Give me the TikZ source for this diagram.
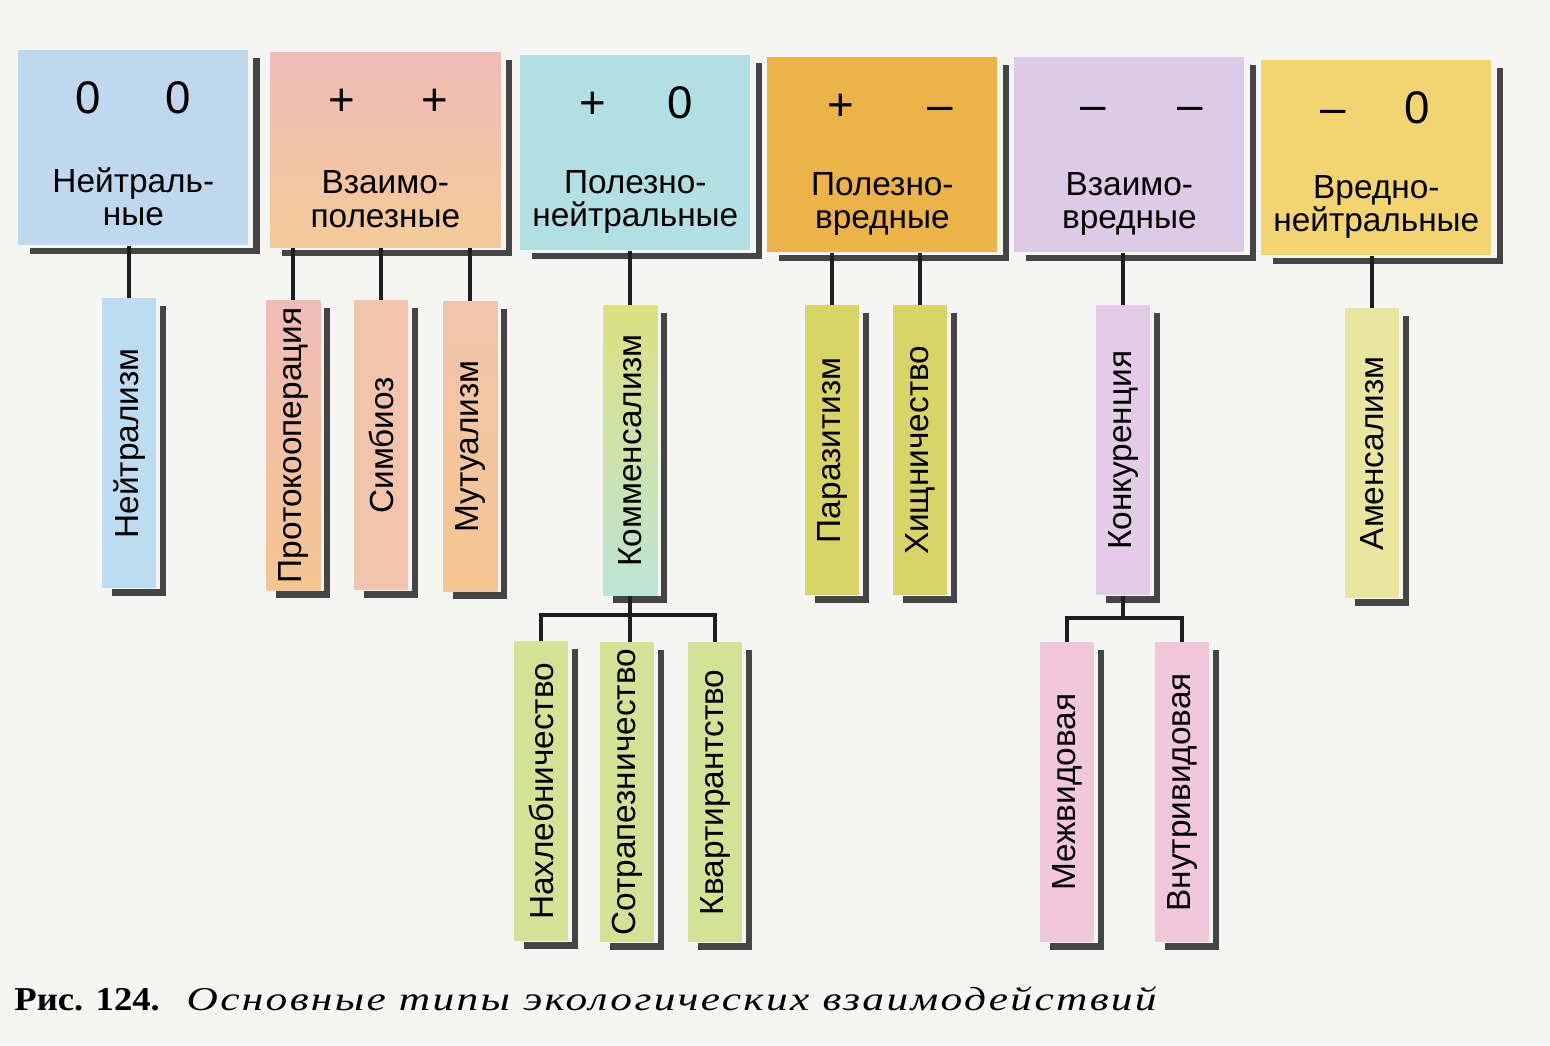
\documentclass[tikz,border=0pt]{standalone}
\usepackage{fontspec}
\usepackage{graphicx}
\setmainfont{Liberation Sans}
\newfontfamily\capfont[FakeStretch=1.3,LetterSpace=7]{Liberation Serif}
\newfontfamily\capbold[FakeStretch=1.1]{Liberation Serif}
\usetikzlibrary{calc}

\definecolor{paper}{HTML}{F5F5F3}
\definecolor{shadowgray}{HTML}{454545}
\definecolor{linkgray}{HTML}{1E1E1E}
\definecolor{neublue}{HTML}{BFD8EE}
\definecolor{vzppink}{HTML}{F0BCB8}
\definecolor{vzporange}{HTML}{F4CA98}
\definecolor{pnecyan}{HTML}{B2E0E2}
\definecolor{pvrgold}{HTML}{ECB446}
\definecolor{vzvlilac}{HTML}{DCCAE6}
\definecolor{vneyellow}{HTML}{F2D470}
\definecolor{kindblue}{HTML}{BCDCF2}
\definecolor{kindorange}{HTML}{F4C690}
\definecolor{kindpeach}{HTML}{F2C4AC}
\definecolor{kindcyan}{HTML}{BEE4D6}
\definecolor{kindlime}{HTML}{DCE080}
\definecolor{kindolive}{HTML}{D8D466}
\definecolor{kindlilac}{HTML}{E4CCE8}
\definecolor{kindlemon}{HTML}{EAE6A0}
\definecolor{kindgreen}{HTML}{D4E296}
\definecolor{kindrose}{HTML}{F0C8DA}

\newcommand\kindfont{\fontsize{19}{21}\selectfont}
\newcommand\sgnfont{\fontsize{26}{28}\selectfont}
\newcommand\ttlfont{\fontsize{19}{19}\selectfont}

\begin{document}
\begin{tikzpicture}[x=0.02cm,y=-0.02cm,
  grp/.style={minimum width=4.6cm,minimum height=3.9cm,anchor=north west,inner sep=0pt},
  kind/.style={minimum width=1.08cm,minimum height=5.8cm,anchor=north west,inner sep=0pt,font=\kindfont},
  sgn/.style={font=\sgnfont,anchor=base,inner sep=0pt},
  ttl/.style={font=\ttlfont,align=center,inner sep=0pt},
  shd/.style={line width=3.6pt,draw=shadowgray},
  link/.style={line width=2.2pt,draw=linkgray}]
\fill[paper](0,0)rectangle(1550,1045);
\useasboundingbox(0,0)rectangle(1550,1045);

% groups
\node[grp,fill=neublue](neu)at(18,50){};
\node[grp,top color=vzppink,bottom color=vzporange](vzp)at(270,52){};
\node[grp,fill=pnecyan](pne)at(520,55){};
\node[grp,fill=pvrgold](pvr)at(767,57){};
\node[grp,fill=vzvlilac](vzv)at(1014,57){};
\node[grp,fill=vneyellow](vne)at(1261,60){};

\node[sgn](neu-l)at($(neu.north)+(-45,63)$){0};
\node[sgn](neu-r)at($(neu.north)+(45,63)$){0};
\node[sgn](vzp-l)at($(vzp.north)+(-43,63)$){+};
\node[sgn](vzp-r)at($(vzp.north)+(50,63)$){+};
\node[sgn](pne-l)at($(pne.north)+(-43,63)$){+};
\node[sgn](pne-r)at($(pne.north)+(45,63)$){0};
\node[sgn](pvr-l)at($(pvr.north)+(-42,63)$){+};
\node[sgn](pvr-r)at($(pvr.north)+(58,63)$){–};
\node[sgn](vzv-l)at($(vzv.north)+(-36,63)$){–};
\node[sgn](vzv-r)at($(vzv.north)+(61,63)$){–};
\node[sgn](vne-l)at($(vne.north)+(-43,63)$){–};
\node[sgn](vne-r)at($(vne.north)+(41,63)$){0};

\node[ttl](neu-t)at($(neu.north)+(0,147)$){Нейтраль-\\ные};
\node[ttl](vzp-t)at($(vzp.north)+(0,147)$){Взаимо-\\полезные};
\node[ttl](pne-t)at($(pne.north)+(0,147)$){Полезно-\\нейтральные};
\node[ttl](pvr-t)at($(pvr.north)+(0,147)$){Полезно-\\вредные};
\node[ttl](vzv-t)at($(vzv.north)+(0,147)$){Взаимо-\\вредные};
\node[ttl](vne-t)at($(vne.north)+(0,147)$){Вредно-\\нейтральные};

% kinds
\node[kind,fill=kindblue](nei)at(102,298){\rotatebox{90}{Нейтрализм}};
\node[kind,top color=vzppink,bottom color=kindorange](pro)at(266,300){\rotatebox{90}{Протокооперация}};
\node[kind,fill=kindpeach](sim)at(354,300){\rotatebox{90}{Симбиоз}};
\node[kind,top color=kindpeach,bottom color=kindorange](mut)at(443,301){\rotatebox{90}{Мутуализм}};
\node[kind,top color=kindlime,bottom color=kindcyan](kom)at(603,305){\rotatebox{90}{Комменсализм}};
\node[kind,fill=kindolive](par)at(805,305){\rotatebox{90}{Паразитизм}};
\node[kind,fill=kindolive](hish)at(893,305){\rotatebox{90}{Хищничество}};
\node[kind,fill=kindlilac](kon)at(1096,305){\rotatebox{90}{Конкуренция}};
\node[kind,fill=kindlemon](ame)at(1345,308){\rotatebox{90}{Аменсализм}};

\node[kind,minimum height=6cm,fill=kindgreen](nax)at(514,641){\rotatebox{90}{Нахлебничество}};
\node[kind,minimum height=6cm,fill=kindgreen](sot)at(600,642){\rotatebox{90}{Сотрапезничество}};
\node[kind,minimum height=6cm,fill=kindgreen](kva)at(688,642){\rotatebox{90}{Квартирантство}};
\node[kind,minimum height=6cm,fill=kindrose](mez)at(1040,642){\rotatebox{90}{Межвидовая}};
\node[kind,minimum height=6cm,fill=kindrose](vnu)at(1155,642){\rotatebox{90}{Внутривидовая}};

% shadows
\foreach \n in {neu,vzp,pne,pvr,vzv,vne}
  \draw[shd]($(\n.north east)+(8,8)$)|-($(\n.south west)+(12,5)$);
\foreach \n in {nei,pro,sim,mut,kom,par,hish,kon,ame,nax,sot,kva,mez,vnu}
  \draw[shd]($(\n.north east)+(6,8)$)|-($(\n.south west)+(10,4)$);

% links
\draw[link](nei.north)--(nei.north|-neu.south);
\draw[link](pro.north)--(pro.north|-vzp.south);
\draw[link](sim.north)--(sim.north|-vzp.south);
\draw[link](mut.north)--(mut.north|-vzp.south);
\draw[link](kom.north)--(kom.north|-pne.south);
\draw[link](par.north)--(par.north|-pvr.south);
\draw[link](hish.north)--(hish.north|-pvr.south);
\draw[link](kon.north)--(kon.north|-vzv.south);
\draw[link](ame.north)--(ame.north|-vne.south);
\draw[link](kom.south)--(kom.south|-sot.north);
\draw[link](nax.north)--++(0,-26)-|(kva.north);
\draw[link](kon.south)--++(0,23);
\draw[link](mez.north)--++(0,-24)-|(vnu.north);

\node[anchor=base west,inner sep=0pt](cap)at(14,1010){\fontsize{19}{21}\selectfont
  {\capbold\bfseries Рис. 124.}\hspace{0.8em}{\capfont\itshape Основные типы экологических взаимодействий}};
\end{tikzpicture}
\end{document}
